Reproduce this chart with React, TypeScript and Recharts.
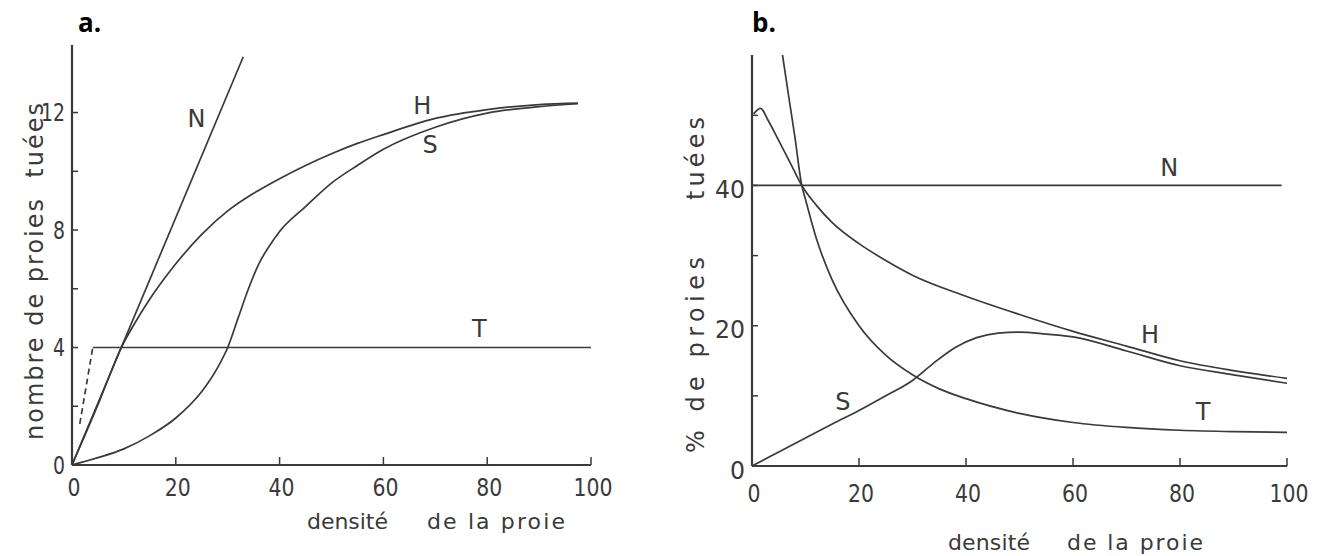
import React from 'react';
import { LineChart, Line, XAxis, YAxis, ReferenceDot } from 'recharts';

// ---------- Panel a : nombre de proies tuées ----------
const aNx = [0, 33];
const aNy = [0, 13.9];
const aHx = [0, 5, 9.5, 12, 15, 20, 25, 30, 35, 40, 45, 50, 55, 60, 70, 80, 90, 97.5];
const aHy = [0, 2.05, 4, 4.8, 5.65, 6.85, 7.85, 8.65, 9.25, 9.75, 10.2, 10.6, 10.95, 11.25, 11.8, 12.1, 12.27, 12.32];
const aSx = [0, 5, 10, 15, 20, 25, 28, 30, 32, 34, 36, 38, 40, 45, 50, 55, 60, 70, 80, 90, 97.5];
const aSy = [0, 0.25, 0.55, 1.0, 1.6, 2.5, 3.3, 4.0, 5.0, 6.0, 6.85, 7.45, 7.95, 8.8, 9.6, 10.2, 10.75, 11.5, 11.98, 12.2, 12.3];
const aTdashX = [1.5, 4];
const aTdashY = [1.4, 4];
const aTx = [4, 100];
const aTy = [4, 4];
const aYTicks = [0, 2, 4, 6, 8, 10, 12];
const aYLabels = [0, 4, 8, 12];

// ---------- Panel b : % de proies tuées ----------
const bNx = [0, 99];
const bNy = [40, 40];
const bHx = [0.3, 1.6, 3, 5, 7.1, 9.3, 12, 15, 20, 25, 30, 40, 50, 60, 70, 80, 90, 100];
const bHy = [50.2, 51, 49.3, 46.4, 43.3, 40, 37.2, 34.7, 31.7, 29.3, 27.2, 24.2, 21.6, 19.2, 17.1, 15.0, 13.6, 12.5];
const bSx = [0, 5, 10, 15, 20, 25, 30, 34, 38, 42, 46, 50, 55, 60, 70, 80, 90, 100];
const bSy = [0, 2, 4, 6, 7.9, 10.0, 12.2, 14.7, 16.9, 18.3, 18.95, 19.1, 18.8, 18.4, 16.4, 14.3, 13.0, 11.8];
const bTx = [5.7, 7, 8, 9.3, 10, 12, 15, 20, 25, 30, 35, 40, 50, 60, 70, 80, 90, 100];
const bTy = [58.6, 52, 47, 40, 38, 32.5, 26.5, 20, 15.8, 13, 11, 9.6, 7.5, 6.2, 5.5, 5.1, 4.9, 4.8];
const bYTicks = [0, 10, 20, 30, 40, 50];
const bYLabels = [0, 20, 40];

const xTicks = [0, 20, 40, 60, 80, 100];

// curve labels (data coordinates)
const aLabels = [
  { t: 'N', x: 24, y: 11.8 },
  { t: 'H', x: 67.5, y: 12.25 },
  { t: 'S', x: 69, y: 10.9 },
  { t: 'T', x: 78.5, y: 4.65 },
];
const bLabels = [
  { t: 'N', x: 78, y: 42.6 },
  { t: 'H', x: 74.4, y: 18.8 },
  { t: 'S', x: 17, y: 9.2 },
  { t: 'T', x: 84.3, y: 7.8 },
];

const INK = '#3a3a3a';
const FONT = '"DejaVu Sans", sans-serif';

const pts = (xs: number[], ys: number[]) => xs.map((x, i) => ({ x, y: ys[i] }));

const Digits = (p: { x: number; y: number; v: number; anchor: 'start' | 'middle' | 'end'; w: number }) => {
  const W = p.w * String(p.v).length;
  const sx = p.anchor === 'end' ? p.x - W : p.anchor === 'middle' ? p.x - W / 2 : p.x;
  return (
    <text
      x={sx}
      y={p.y}
      textAnchor="start"
      dominantBaseline="central"
      fontSize={25}
      fontFamily={FONT}
      fill={INK}
      textLength={W}
      lengthAdjust="spacingAndGlyphs"
    >
      {p.v}
    </text>
  );
};

const mkYTick = (shown: number[], gap: number, w: number, dy: number) => (p: any) => {
  const { x, y, payload } = p;
  const v = payload.value;
  return (
    <g>
      {v !== 0 && <line x1={x} x2={x + 6} y1={y} y2={y} stroke={INK} strokeWidth={1.5} />}
      {shown.includes(v) && <Digits x={x - gap} y={y + dy} v={v} anchor="end" w={w} />}
    </g>
  );
};

const mkXTick = (dy: number) => (p: any) => {
  const { x, y, payload } = p;
  const v = payload.value;
  return (
    <g>
      {v !== 0 && <line x1={x} x2={x} y1={y} y2={y - 8} stroke={INK} strokeWidth={1.5} />}
      <Digits x={x + 2} y={y + dy} v={v} anchor="middle" w={13} />
    </g>
  );
};

const lineProps = {
  dataKey: 'y',
  dot: false,
  activeDot: false,
  stroke: INK,
  strokeWidth: 1.7,
  isAnimationActive: false,
} as const;

const curveLabel = (l: { t: string; x: number; y: number }) => (
  <ReferenceDot
    key={l.t}
    x={l.x}
    y={l.y}
    r={0}
    fill="none"
    stroke="none"
    label={{ value: l.t, position: 'center', fontSize: 24, fontFamily: FONT, fill: INK }}
  />
);

const Title = (p: { x: number; y: number; len: number; size: number; rot?: boolean; children: string }) => (
  <text
    x={p.x}
    y={p.y}
    transform={p.rot ? `rotate(-90 ${p.x} ${p.y})` : undefined}
    textAnchor="start"
    fontSize={p.size}
    fontFamily={FONT}
    fill={INK}
    textLength={p.len}
    lengthAdjust="spacing"
    style={{ whiteSpace: 'pre' }}
  >
    {p.children}
  </text>
);

export default function App() {
  return (
    <div style={{ position: 'absolute', left: 0, top: 0, width: 1318, height: 556, background: '#fff' }}>
      <div style={{ position: 'absolute', left: 0, top: 0 }}>
        <LineChart width={660} height={556} margin={{ top: 45, right: 69, bottom: 51, left: 32 }}>
          <XAxis
            type="number"
            dataKey="x"
            domain={[0, 100]}
            ticks={xTicks}
            interval={0}
            height={40}
            tickSize={0}
            tickMargin={0}
            tickLine={false}
            axisLine={{ stroke: INK, strokeWidth: 2.2 }}
            tick={mkXTick(22)}
            allowDataOverflow
          />
          <YAxis
            type="number"
            domain={[0, 14.3]}
            ticks={aYTicks}
            interval={0}
            width={40}
            tickSize={0}
            tickMargin={0}
            tickLine={false}
            axisLine={{ stroke: INK, strokeWidth: 2.2 }}
            tick={mkYTick(aYLabels, 7, 12, 0)}
            allowDataOverflow
          />
          <Line {...lineProps} data={pts(aNx, aNy)} type="linear" />
          <Line {...lineProps} data={pts(aHx, aHy)} type="monotone" />
          <Line {...lineProps} data={pts(aSx, aSy)} type="monotone" />
          <Line {...lineProps} data={pts(aTdashX, aTdashY)} type="linear" strokeDasharray="6 4" />
          <Line {...lineProps} data={pts(aTx, aTy)} type="linear" />
          {aLabels.map(curveLabel)}
          <text x={78} y={32} fontSize={26} fontWeight="bold" fontFamily='"Open Sans", sans-serif' fill="#000">a.</text>
          <Title x={43} y={440} len={337} size={24} rot>{'nombre de proies  tuées'}</Title>
          <Title x={307} y={529} len={81} size={22}>{'densité'}</Title>
          <Title x={427} y={529} len={138} size={22}>{'de la proie'}</Title>
        </LineChart>
      </div>
      <div style={{ position: 'absolute', left: 660, top: 0 }}>
        <LineChart width={658} height={556} margin={{ top: 55, right: 31, bottom: 50, left: 52 }}>
          <XAxis
            type="number"
            dataKey="x"
            domain={[0, 100]}
            ticks={xTicks}
            interval={0}
            height={40}
            tickSize={0}
            tickMargin={0}
            tickLine={false}
            axisLine={{ stroke: INK, strokeWidth: 2.2 }}
            tick={mkXTick(27)}
            allowDataOverflow
          />
          <YAxis
            type="number"
            domain={[0, 58.6]}
            ticks={bYTicks}
            interval={0}
            width={40}
            tickSize={0}
            tickMargin={0}
            tickLine={false}
            axisLine={{ stroke: INK, strokeWidth: 2.2 }}
            tick={mkYTick(bYLabels, 7, 15, 4)}
            allowDataOverflow
          />
          <Line {...lineProps} data={pts(bNx, bNy)} type="linear" />
          <Line {...lineProps} data={pts(bHx, bHy)} type="monotone" />
          <Line {...lineProps} data={pts(bSx, bSy)} type="monotone" />
          <Line {...lineProps} data={pts(bTx, bTy)} type="monotone" />
          {bLabels.map(curveLabel)}
          <text x={92} y={32} fontSize={26} fontWeight="bold" fontFamily='"Open Sans", sans-serif' fill="#000">b.</text>
          <Title x={44} y={453} len={196} size={24} rot>{'% de proies'}</Title>
          <Title x={44} y={200} len={83} size={24} rot>{'tuées'}</Title>
          <Title x={288} y={550} len={82} size={22}>{'densité'}</Title>
          <Title x={407} y={550} len={136} size={22}>{'de la proie'}</Title>
        </LineChart>
      </div>
    </div>
  );
}
